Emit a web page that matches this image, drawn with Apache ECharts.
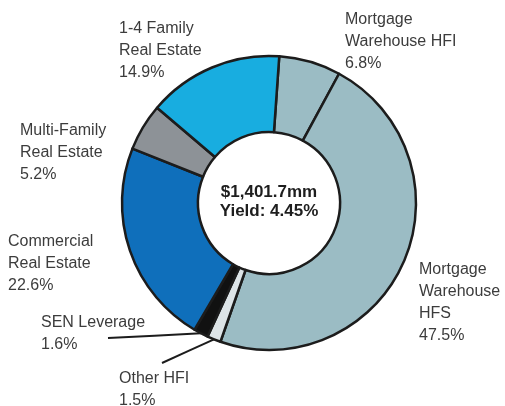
<!DOCTYPE html>
<html>
<head>
<meta charset="utf-8">
<script src="https://cdn.jsdelivr.net/npm/echarts@6/dist/echarts.min.js"></script>
<style>
  html, body { margin: 0; padding: 0; background: #ffffff; }
  #chart { width: 505px; height: 406px; }
</style>
</head>
<body>
<div id="chart"></div>
<script>
// Loan portfolio composition (share of total, %), clockwise from 12 o'clock
var categories = [
  'Mortgage\nWarehouse HFI',
  'Mortgage\nWarehouse\nHFS',
  'Other HFI',
  'SEN Leverage',
  'Commercial\nReal Estate',
  'Multi-Family\nReal Estate',
  '1-4 Family\nReal Estate'
];
var shares = [6.8, 47.5, 1.5, 1.6, 22.6, 5.2, 14.9];
var sliceColors = ['#9bbcc4', '#9bbcc4', '#dde4e7', '#111111', '#0f6fbb', '#8d9297', '#18ade0'];

// Totals shown in the hole
var totalBalanceMm = 1401.7;
var portfolioYield = 4.45;

// Where each label block sits (left, top) and, for leader-lined labels, the line's far end
var labelSpots = [
  { x: 345, y: 9 },
  { x: 419, y: 259 },
  { x: 119, y: 368, lineEnd: [162, 363] },
  { x: 41, y: 312, lineEnd: [108, 338] },
  { x: 8, y: 231 },
  { x: 20, y: 120 },
  { x: 119, y: 18 }
];
var withLeader = { 'Other HFI': true, 'SEN Leverage': true };

var chart = echarts.init(document.getElementById('chart'), null, { renderer: 'canvas' });

var pieData = categories.map(function (name, i) {
  return {
    name: name,
    value: shares[i],
    itemStyle: { color: sliceColors[i] },
    labelLine: { show: !!withLeader[name] }
  };
});

function fmtMoney(v) {
  var parts = v.toFixed(1).split('.');
  parts[0] = parts[0].replace(/\B(?=(\d{3})+(?!\d))/g, ',');
  return '$' + parts.join('.') + 'mm';
}

chart.setOption({
  animation: false,
  backgroundColor: '#ffffff',
  series: [{
    type: 'pie',
    center: [269, 203],
    radius: [71, 147],
    startAngle: 86,
    clockwise: true,
    avoidLabelOverlap: false,
    itemStyle: { borderColor: '#1c1c1c', borderWidth: 2.5 },
    emphasis: { disabled: true },
    label: {
      show: true,
      position: 'outside',
      formatter: function (p) { return p.name + '\n' + p.value.toFixed(1) + '%'; },
      fontFamily: 'Liberation Sans, Arial, sans-serif',
      fontSize: 16,
      lineHeight: 22,
      color: '#3c3c3c'
    },
    labelLine: {
      length: 10,
      length2: 10,
      lineStyle: { color: '#1c1c1c', width: 2 }
    },
    labelLayout: function (params) {
      var spot = labelSpots[params.dataIndex];
      var out = { x: spot.x, y: spot.y, align: 'left', verticalAlign: 'top' };
      if (spot.lineEnd && params.labelLinePoints) {
        var a = params.labelLinePoints[0];
        var b = spot.lineEnd;
        out.labelLinePoints = [a, [(a[0] + b[0]) / 2, (a[1] + b[1]) / 2], b];
      }
      return out;
    },
    data: pieData
  }],
  graphic: [{
    type: 'text',
    x: 269,
    y: 202,
    style: {
      text: fmtMoney(totalBalanceMm) + '\nYield: ' + portfolioYield.toFixed(2) + '%',
      font: 'bold 17px "Liberation Sans", Arial, sans-serif',
      lineHeight: 19,
      fill: '#1e1e1e',
      align: 'center',
      verticalAlign: 'middle'
    }
  }]
});
</script>
</body>
</html>
